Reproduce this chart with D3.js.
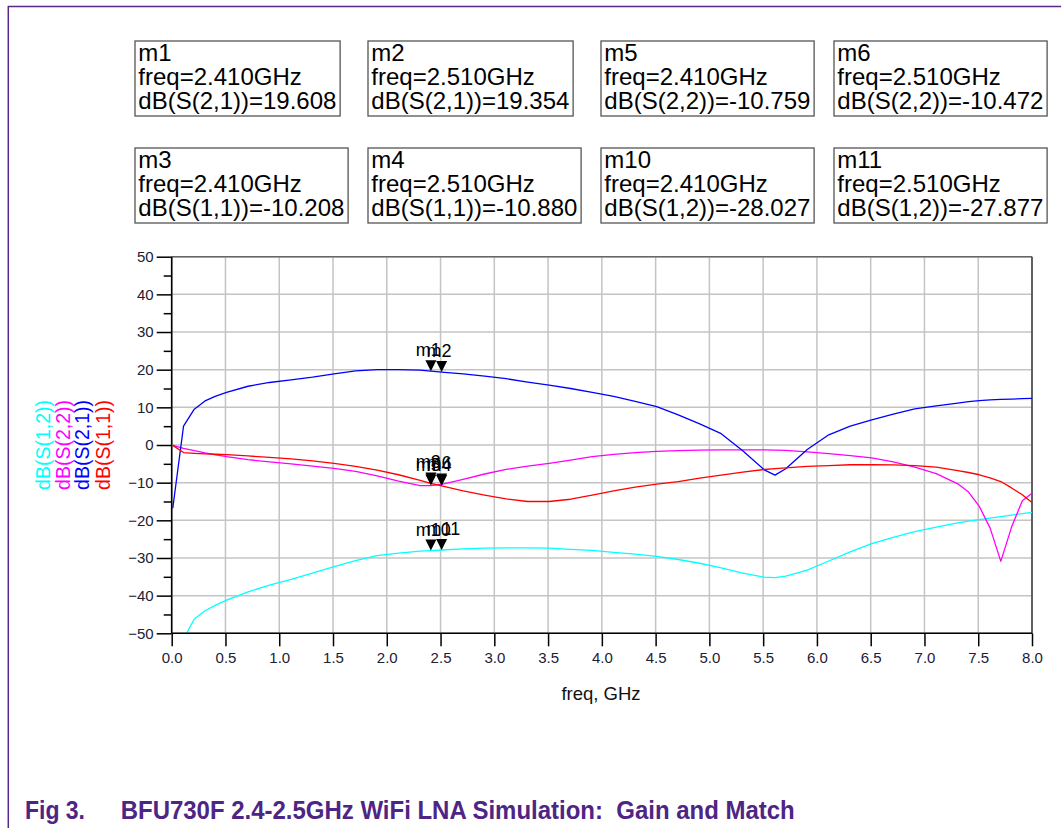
<!DOCTYPE html>
<html>
<head>
<meta charset="utf-8">
<script src="https://cdn.jsdelivr.net/npm/d3@7"></script>
<style>
  html, body { margin: 0; padding: 0; background: #fff; }
  svg { display: block; font-family: "Liberation Sans", Arial, sans-serif; }
</style>
</head>
<body>
<svg id="chart" width="1061" height="828"></svg>
<script>
// ---------------- DATA ----------------
const freq = [0.01, 0.11, 0.21, 0.31, 0.41, 0.51, 0.71, 0.91, 1.11, 1.31, 1.51, 1.71, 1.91, 2.11, 2.31, 2.41, 2.51, 2.71, 2.91, 3.11, 3.31, 3.51, 3.71, 3.91, 4.11, 4.31, 4.51, 4.71, 4.91, 5.11, 5.31, 5.51, 5.61, 5.71, 5.91, 6.11, 6.31, 6.51, 6.71, 6.91, 7.11, 7.31, 7.41, 7.51, 7.61, 7.71, 7.81, 7.91, 8.0];

const s21 = [-16.8, 5.0, 9.5, 11.7, 13.0, 14.0, 15.6, 16.6, 17.3, 18.0, 18.9, 19.7, 20.0, 20.0, 19.9, 19.608, 19.354, 18.9, 18.3, 17.6, 16.7, 15.9, 15.0, 14.0, 12.9, 11.6, 10.2, 8.0, 5.6, 3.0, -1.5, -6.6, -8.0, -6.3, -1.2, 2.7, 5.0, 6.7, 8.2, 9.6, 10.4, 11.1, 11.5, 11.8, 12.0, 12.1, 12.2, 12.3, 12.4];

const s11 = [-0.1, -2.0, -2.2, -2.35, -2.45, -2.55, -2.9, -3.3, -3.7, -4.2, -4.9, -5.7, -6.7, -7.9, -9.4, -10.208, -10.880, -12.2, -13.3, -14.3, -15.0, -15.0, -14.4, -13.3, -12.2, -11.2, -10.4, -9.7, -8.8, -8.0, -7.2, -6.5, -6.3, -6.1, -5.7, -5.5, -5.25, -5.2, -5.3, -5.5, -5.9, -6.8, -7.3, -7.9, -8.7, -9.7, -11.4, -13.2, -15.3];

const s22 = [-0.1, -0.9, -1.5, -2.1, -2.6, -3.1, -3.9, -4.5, -5.0, -5.6, -6.2, -7.0, -8.2, -9.6, -10.8, -10.759, -10.472, -9.1, -7.7, -6.5, -5.6, -4.9, -4.0, -3.1, -2.5, -2.0, -1.7, -1.5, -1.35, -1.3, -1.3, -1.3, -1.35, -1.45, -1.8, -2.3, -2.8, -3.4, -4.5, -5.9, -7.6, -10.3, -12.5, -16.3, -22.0, -30.9, -21.8, -14.8, -12.8];

const s12 = [-75, -51.5, -46.2, -44.0, -42.5, -41.2, -39.0, -37.2, -35.7, -34.0, -32.3, -30.7, -29.4, -28.7, -28.2, -28.027, -27.877, -27.6, -27.4, -27.3, -27.3, -27.4, -27.7, -28.0, -28.5, -29.0, -29.6, -30.4, -31.4, -32.6, -34.0, -35.1, -35.2, -34.8, -33.2, -30.8, -28.4, -26.2, -24.5, -23.0, -21.8, -20.7, -20.2, -19.8, -19.4, -19.0, -18.6, -18.2, -17.9];

const seriesNames = ["dB(S(1,2))", "dB(S(2,2))", "dB(S(2,1))", "dB(S(1,1))"];
const seriesColors = ["#00ffff", "#ff00ff", "#0000ff", "#ff0000"];
const seriesValues = [s12, s22, s21, s11];

const xTicks = [0, 0.5, 1, 1.5, 2, 2.5, 3, 3.5, 4, 4.5, 5, 5.5, 6, 6.5, 7, 7.5, 8];
const yTicks = [-50, -40, -30, -20, -10, 0, 10, 20, 30, 40, 50];
const yMinorTicks = [-45, -35, -25, -15, -5, 5, 15, 25, 35, 45];

// markers: name, freq, series index (into seriesValues), value, trace label
const markerNames = ["m1", "m2", "m5", "m6", "m3", "m4", "m10", "m11"];
const markerFreqs = [2.410, 2.510, 2.410, 2.510, 2.410, 2.510, 2.410, 2.510];
const markerTraces = ["dB(S(2,1))", "dB(S(2,1))", "dB(S(2,2))", "dB(S(2,2))", "dB(S(1,1))", "dB(S(1,1))", "dB(S(1,2))", "dB(S(1,2))"];
const markerValues = [19.608, 19.354, -10.759, -10.472, -10.208, -10.880, -28.027, -27.877];

const xTitle = "freq, GHz";
const captionFig = "Fig 3.";
const captionText = "BFU730F 2.4-2.5GHz WiFi LNA Simulation:  Gain and Match";

// ---------------- LAYOUT ----------------
const svg = d3.select("#chart");
const W = 1061, H = 828;
const x = d3.scaleLinear().domain([0, 8]).range([171.7, 1032]);
const y = d3.scaleLinear().domain([-50, 50]).range([633.3, 256.7]);
const purple = "#56288a";

// outer frame
svg.append("line").attr("x1", 8).attr("x2", W).attr("y1", 6.5).attr("y2", 6.5)
  .attr("stroke", purple).attr("stroke-width", 1.5);
svg.append("line").attr("x1", 8.3).attr("x2", 8.3).attr("y1", 6).attr("y2", H)
  .attr("stroke", purple).attr("stroke-width", 1.5);

// marker readout boxes
const boxLeft = [135, 368, 601, 834];
const boxTop = [41, 148];
const boxG = svg.append("g");
markerNames.forEach((nm, i) => {
  const col = i % 4, row = Math.floor(i / 4);
  const bx = boxLeft[col], by = boxTop[row];
  const g = boxG.append("g");
  const rect = g.append("rect").attr("x", bx).attr("y", by).attr("height", 75)
    .attr("fill", "#fff").attr("stroke", "#555").attr("stroke-width", 1.3);
  const lines = [nm, "freq=" + markerFreqs[i].toFixed(3) + "GHz",
                 markerTraces[i] + "=" + markerValues[i].toFixed(3)];
  let maxW = 0;
  lines.forEach((t, k) => {
    const tx = g.append("text").attr("x", bx + 3.3).attr("y", by + 20 + k * 24)
      .attr("font-size", 24).attr("fill", "#000").text(t);
    maxW = Math.max(maxW, tx.node().getComputedTextLength());
  });
  rect.attr("width", maxW + 7);
});

// grid
const grid = svg.append("g");
grid.selectAll("line.v").data(xTicks).join("line")
  .attr("x1", d => x(d)).attr("x2", d => x(d)).attr("y1", y(50)).attr("y2", y(-50))
  .attr("stroke", "#c4c4c4").attr("stroke-width", 1.5);
grid.selectAll("line.h").data(yTicks).join("line")
  .attr("x1", x(0)).attr("x2", x(8)).attr("y1", d => y(d)).attr("y2", d => y(d))
  .attr("stroke", "#c4c4c4").attr("stroke-width", 1.5);

// border (top / right darker gray)
svg.append("line").attr("x1", x(0)).attr("x2", x(8)).attr("y1", y(50)).attr("y2", y(50))
  .attr("stroke", "#666").attr("stroke-width", 1.6);
svg.append("line").attr("x1", x(8)).attr("x2", x(8)).attr("y1", y(50)).attr("y2", y(-50))
  .attr("stroke", "#444").attr("stroke-width", 1.6);

// curves
svg.append("clipPath").attr("id", "plotclip").append("rect")
  .attr("x", x(0)).attr("y", y(50)).attr("width", x(8) - x(0)).attr("height", y(-50) - y(50));
const line = d3.line().x(d => x(d[0])).y(d => y(d[1])).curve(d3.curveLinear);
const curves = svg.append("g").attr("clip-path", "url(#plotclip)");
seriesValues.forEach((vals, si) => {
  curves.append("path")
    .datum(freq.map((f, k) => [f, vals[k]]))
    .attr("d", line).attr("fill", "none")
    .attr("stroke", seriesColors[si]).attr("stroke-width", 1.3)
    .attr("stroke-linejoin", "round");
});

// axes
const tickColor = "#1b2036";
const xAxis = d3.axisBottom(x).tickValues(xTicks).tickFormat(d3.format(".1f"))
  .tickSize(13).tickPadding(6);
const gx = svg.append("g").attr("transform", `translate(0,${y(-50)})`).call(xAxis);
gx.select(".domain").remove();
gx.selectAll(".tick line").attr("stroke", "#000").attr("stroke-width", 1.5);
gx.selectAll(".tick text").attr("font-size", 15).attr("fill", tickColor)
  .attr("font-family", "'Liberation Sans', Arial, sans-serif");

const yAxis = d3.axisLeft(y).tickValues(yTicks).tickFormat(d3.format("d"))
  .tickSize(15).tickPadding(3);
const gy = svg.append("g").attr("transform", `translate(${x(0)},0)`).call(yAxis);
gy.select(".domain").remove();
gy.selectAll(".tick line").attr("stroke", "#000").attr("stroke-width", 1.5);
gy.selectAll(".tick text").attr("font-size", 15).attr("fill", tickColor)
  .attr("font-family", "'Liberation Sans', Arial, sans-serif");

const yMinor = d3.axisLeft(y).tickValues(yMinorTicks).tickFormat("").tickSize(8);
const gym = svg.append("g").attr("transform", `translate(${x(0)},0)`).call(yMinor);
gym.select(".domain").remove();
gym.selectAll(".tick line").attr("stroke", "#000").attr("stroke-width", 1.5);

// axis lines
svg.append("line").attr("x1", x(0)).attr("x2", x(0)).attr("y1", y(50)).attr("y2", y(-50))
  .attr("stroke", "#000").attr("stroke-width", 1.6);
svg.append("line").attr("x1", x(0)).attr("x2", x(8)).attr("y1", y(-50)).attr("y2", y(-50))
  .attr("stroke", "#000").attr("stroke-width", 1.6);

// markers on traces
const mk = svg.append("g");
markerNames.forEach((nm, i) => {
  const px = x(markerFreqs[i]), py = y(markerValues[i]);
  mk.append("path")
    .attr("d", `M${px - 5.5},${py - 11}L${px + 5.5},${py - 11}L${px},${py}Z`)
    .attr("fill", "#000");
  mk.append("text").attr("x", px - 15).attr("y", py - 15)
    .attr("font-size", 18).attr("fill", "#000").text(nm);
});

// y-axis titles (rotated, colored)
const yTitleX = [43, 62.5, 82, 102.5];
seriesNames.forEach((nm, i) => {
  svg.append("text")
    .attr("transform", `translate(${yTitleX[i]},${y(0)}) rotate(-90)`)
    .attr("text-anchor", "middle").attr("dominant-baseline", "central")
    .attr("font-size", 19.5).attr("fill", seriesColors[i]).text(nm);
});

// x-axis title
svg.append("text").attr("x", 601).attr("y", 699.5).attr("text-anchor", "middle")
  .attr("font-size", 18.5).attr("fill", "#111").text(xTitle);

// caption
svg.append("text").attr("x", 25).attr("y", 819).attr("font-size", 26)
  .attr("font-weight", "bold").attr("fill", "#4e2585")
  .attr("textLength", 60).attr("lengthAdjust", "spacingAndGlyphs").text(captionFig);
svg.append("text").attr("x", 120.7).attr("y", 819).attr("font-size", 26)
  .attr("font-weight", "bold").attr("fill", "#4e2585").style("white-space", "pre")
  .attr("textLength", 674).attr("lengthAdjust", "spacingAndGlyphs").text(captionText);
</script>
</body>
</html>
